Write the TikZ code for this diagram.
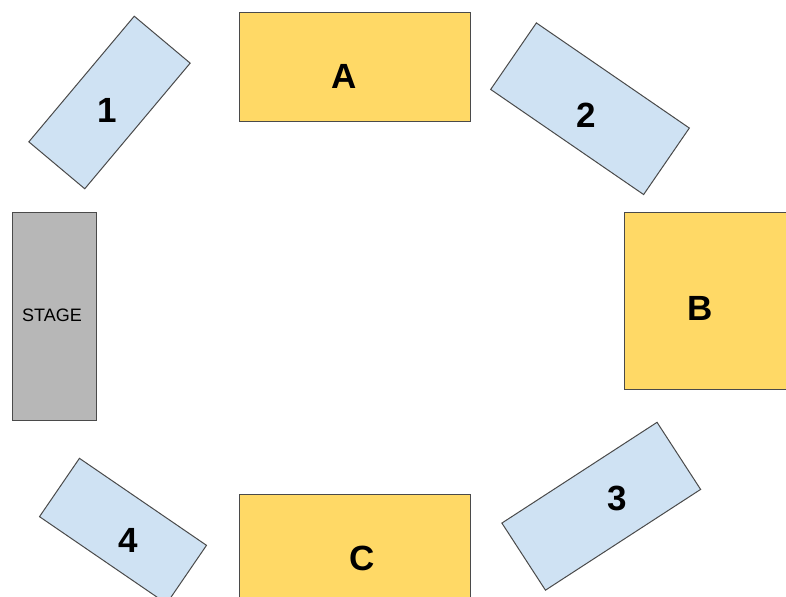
\documentclass[tikz,border=0pt]{standalone}
\usepackage{fontspec}
\setmainfont{Liberation Sans}
\definecolor{lineGray}{HTML}{4A4A4A}
\definecolor{tableBlue}{HTML}{CFE2F3}
\definecolor{boothYellow}{HTML}{FFD966}
\definecolor{stageGray}{HTML}{B7B7B7}
\tikzset{
  box/.style={draw=lineGray, line width=1bp, inner sep=0pt, outer sep=0pt},
  seats/.style={box, fill=tableBlue},
  booth/.style={box, fill=boothYellow},
  big/.style={font=\fontsize{35bp}{40bp}\selectfont\bfseries},
  small/.style={font=\fontsize{18bp}{21bp}\selectfont}
}
\begin{document}
\begin{tikzpicture}[x=1bp,y=1bp]
\clip (0,0) rectangle (786,597);
\fill[white] (0,0) rectangle (786,597);

\node [booth, minimum width=231bp, minimum height=109bp] (boothA) at (355.35,529.5) {};
\node [big] (labelA) at (344,521) {A};

\node [booth, minimum width=176bp, minimum height=177bp] (boothB) at (712,295.5) {};
\node [big] (labelB) at (700,289) {B};

\node [booth, minimum width=231bp, minimum height=112bp] (boothC) at (355.35,46) {};
\node [big] (labelC) at (362,39) {C};

\node [box, fill=stageGray, minimum width=84bp, minimum height=207.7bp] (stage) at (54.7,280.15) {};
\node [small] (labelStage) at (52,282) {STAGE};

\node [seats, rotate=50, minimum width=164bp, minimum height=73bp] (table1) at (109.5,494.5) {};
\node [big] (label1) at (107,487) {1};

\node [seats, rotate=-34.5, minimum width=185.6bp, minimum height=80.7bp] (table2) at (590,488.25) {};
\node [big] (label2) at (586,482) {2};

\node [seats, rotate=33, minimum width=185bp, minimum height=80bp] (table3) at (601.25,90.75) {};
\node [big] (label3) at (617,99) {3};

\node [seats, rotate=-34.4, minimum width=154bp, minimum height=70.7bp] (table4) at (123,66) {};
\node [big] (label4) at (128,57) {4};

\end{tikzpicture}
\end{document}
